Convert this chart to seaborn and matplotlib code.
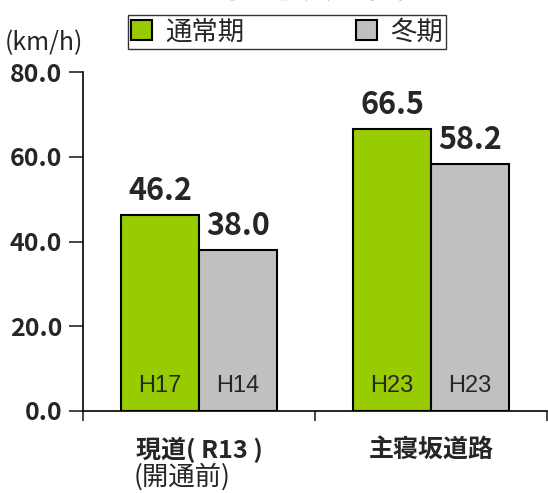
import matplotlib
matplotlib.use('Agg')
import matplotlib.pyplot as plt
import pandas as pd
import seaborn as sns

routes = ['現道( R13 )', '主寝坂道路']
seasons = ['通常期', '冬期']
speed_normal = [46.2, 66.5]
speed_winter = [38.0, 58.2]
year_normal = ['H17', 'H23']
year_winter = ['H14', 'H23']
colors = ['#99CC00', '#C0C0C0']

df = pd.DataFrame({
    '路線': routes * 2,
    '時期': [seasons[0]] * 2 + [seasons[1]] * 2,
    '速度': speed_normal + speed_winter,
})

sns.set_style('ticks')
plt.rcParams['font.family'] = ['Noto Sans CJK JP', 'DejaVu Sans']

fig = plt.figure(figsize=(5.48, 4.93), dpi=100)
ax = fig.add_axes([83/548, 82/493, 464/548, 339/493])

sns.barplot(data=df, x='路線', y='速度', hue='時期', palette=colors, saturation=1,
            width=0.67, gap=0, edgecolor='black', linewidth=1.5, ax=ax)

# 数値ラベル
for cont in ax.containers:
    ax.bar_label(cont, fmt='%.1f', padding=6, fontsize=22, fontweight='bold')

# 年度ラベル（棒の中）
for cont, yrs in zip(ax.containers, [year_normal, year_winter]):
    for bar, y in zip(cont, yrs):
        ax.text(bar.get_x() + bar.get_width() / 2, 6.0, y, ha='center', va='center',
                fontsize=17, family='Liberation Sans')

ax.set_ylim(0, 80)
ax.set_xlim(-0.5, 1.5)
ax.set_yticks([0, 20, 40, 60, 80])
ax.set_yticklabels([f'{v:.1f}' for v in [0, 20, 40, 60, 80]], fontsize=18, fontweight='bold')
ax.tick_params(axis='y', length=10, width=1.2, direction='out', pad=5)
ax.set_xticks([0, 1])
ax.set_xticklabels(routes, fontsize=18, fontweight='bold')
ax.set_xticks([-0.5, 0.5, 1.5], minor=True)
ax.tick_params(axis='x', which='major', length=0, pad=19)
ax.tick_params(axis='x', which='minor', length=7, width=1.2, direction='out')
ax.text(-0.28, -12.2, '(開通前)', ha='left', va='top', fontsize=19, transform=ax.transData,
        clip_on=False)
ax.set_xlabel('')
ax.set_ylabel('')
for s in ['top', 'right']:
    ax.spines[s].set_visible(False)
for s in ['left', 'bottom']:
    ax.spines[s].set_linewidth(1.2)
    ax.spines[s].set_color('black')

handles, labels = ax.get_legend_handles_labels()
leg = ax.legend(handles, labels, loc='center', bbox_to_anchor=(287/548, 1 - 32/493),
                bbox_transform=fig.transFigure, ncol=2, frameon=True, fancybox=False,
                edgecolor='black', fontsize=19, handlelength=0.8, handleheight=0.8,
                handletextpad=0.5, columnspacing=4.2, borderpad=0.12, borderaxespad=0)
leg.get_frame().set_linewidth(1.0)

fig.text(5/548, 1 - 43/493, '(km/h)', ha='left', va='center', fontsize=18)
fig.text(315/548, 1 - 5/493, '旅行速度の変化', ha='center', va='bottom', fontsize=26,
         fontweight='bold')

fig.savefig('out.png', dpi=100)
